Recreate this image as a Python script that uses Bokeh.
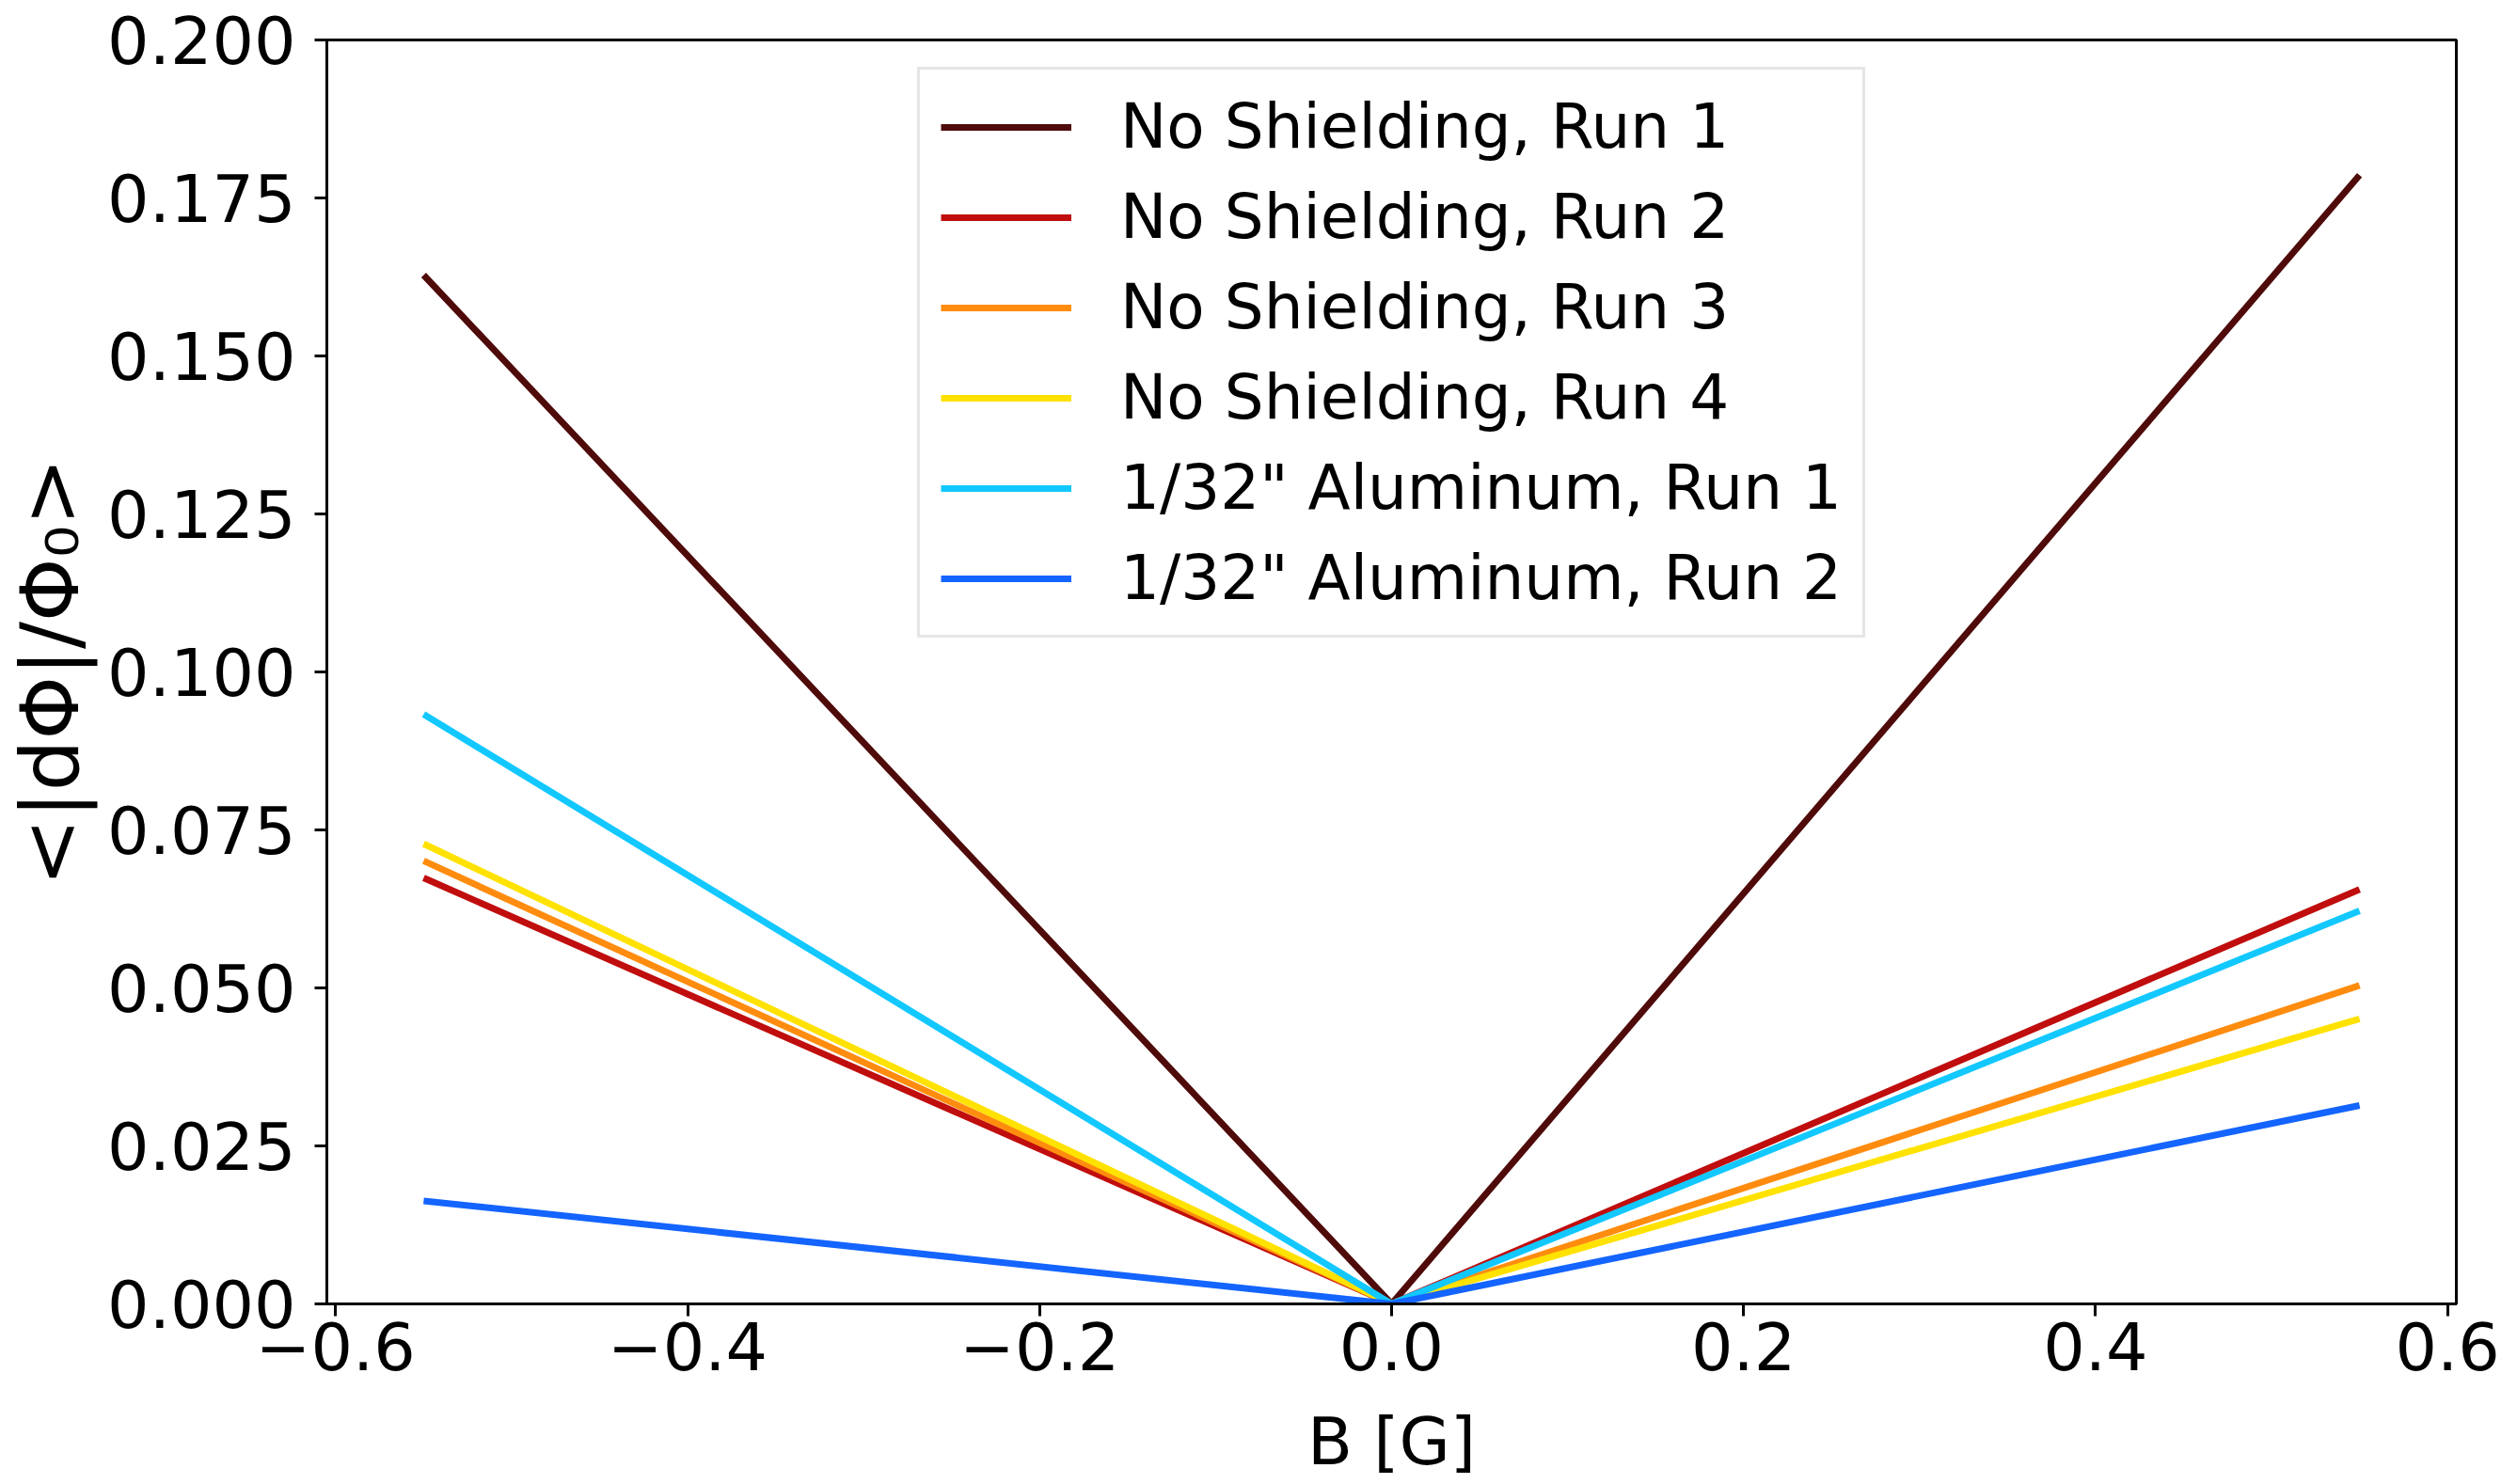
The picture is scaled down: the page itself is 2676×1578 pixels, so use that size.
from bokeh.plotting import figure
from bokeh.models import Range1d, FixedTicker, CustomJSTickFormatter
from bokeh.embed import file_html
from bokeh.resources import INLINE

# ---- data ----
b_field = [-0.55, 0.0, 0.55]
no_shield_run1 = [0.1628, 0.0, 0.1786]
no_shield_run2 = [0.0674, 0.0, 0.0656]
no_shield_run3 = [0.0701, 0.0, 0.0504]
no_shield_run4 = [0.0728, 0.0, 0.0451]
alu_run1 = [0.0933, 0.0, 0.0622]
alu_run2 = [0.0163, 0.0, 0.0314]

series_labels = [
    "No Shielding, Run 1",
    "No Shielding, Run 2",
    "No Shielding, Run 3",
    "No Shielding, Run 4",
    '1/32" Aluminum, Run 1',
    '1/32" Aluminum, Run 2',
]
series_values = [no_shield_run1, no_shield_run2, no_shield_run3,
                 no_shield_run4, alu_run1, alu_run2]
series_colors = ["#4f0a0a", "#c00d0d", "#ff8c0f", "#ffe200", "#12c8ff", "#1464ff"]

x_ticks = [-0.6, -0.4, -0.2, 0.0, 0.2, 0.4, 0.6]
y_ticks = [0.0, 0.025, 0.05, 0.075, 0.1, 0.125, 0.15, 0.175, 0.2]

FONT = "DejaVu Sans"

p = figure(
    frame_width=2264, frame_height=1344,
    min_border_left=340, min_border_right=54,
    min_border_top=42, min_border_bottom=170,
    x_range=Range1d(-0.605, 0.605), y_range=Range1d(0.0, 0.2),
    output_backend="svg", toolbar_location=None,
)
p.background_fill_color = "white"
p.border_fill_color = "white"
p.outline_line_color = "black"
p.outline_line_width = 3
p.grid.visible = False

for lab, vals, col in zip(series_labels, series_values, series_colors):
    p.line(b_field, vals, line_color=col, line_width=7, legend_label=lab)

# axes
p.xaxis.ticker = FixedTicker(ticks=x_ticks)
p.yaxis.ticker = FixedTicker(ticks=y_ticks)
p.xaxis.formatter = CustomJSTickFormatter(
    code="var s = Math.abs(tick).toFixed(1); return (tick < -1e-9 ? '\u2212' : '') + s;")
p.yaxis.formatter = CustomJSTickFormatter(code="return Math.abs(tick).toFixed(3);")

for ax in (p.xaxis[0], p.yaxis[0]):
    ax.axis_line_color = "black"
    ax.axis_line_width = 3
    ax.major_tick_line_color = "black"
    ax.major_tick_line_width = 3
    ax.major_tick_out = 13
    ax.major_tick_in = 0
    ax.minor_tick_line_color = None
    ax.major_label_text_font = FONT
    ax.major_label_text_font_size = "70px"
    ax.major_label_text_color = "black"
    ax.axis_label_text_font = FONT
    ax.axis_label_text_font_style = "normal"
    ax.axis_label_text_color = "black"

p.xaxis.axis_label = "B [G]"
p.xaxis.axis_label_text_font_size = "70px"
p.xaxis.major_label_standoff = 6
p.xaxis.axis_label_standoff = 32

p.yaxis.axis_label = "<|d\u03a6|/\u03a6\u2080>"
p.yaxis.axis_label_text_font_size = "86px"
p.yaxis.major_label_standoff = 20
p.yaxis.axis_label_standoff = 8

# legend
lg = p.legend[0]
lg.location = (628, 708)
lg.label_text_font = FONT
lg.label_text_font_size = "66px"
lg.label_text_color = "black"
lg.glyph_width = 139
lg.glyph_height = 60
lg.label_standoff = 52
lg.padding = 22
lg.spacing = 19
lg.margin = 0
lg.border_line_color = "#cccccc"
lg.border_line_width = 3
lg.background_fill_color = "white"
lg.background_fill_alpha = 0.8

open("out.html", "w").write(file_html(p, INLINE))
